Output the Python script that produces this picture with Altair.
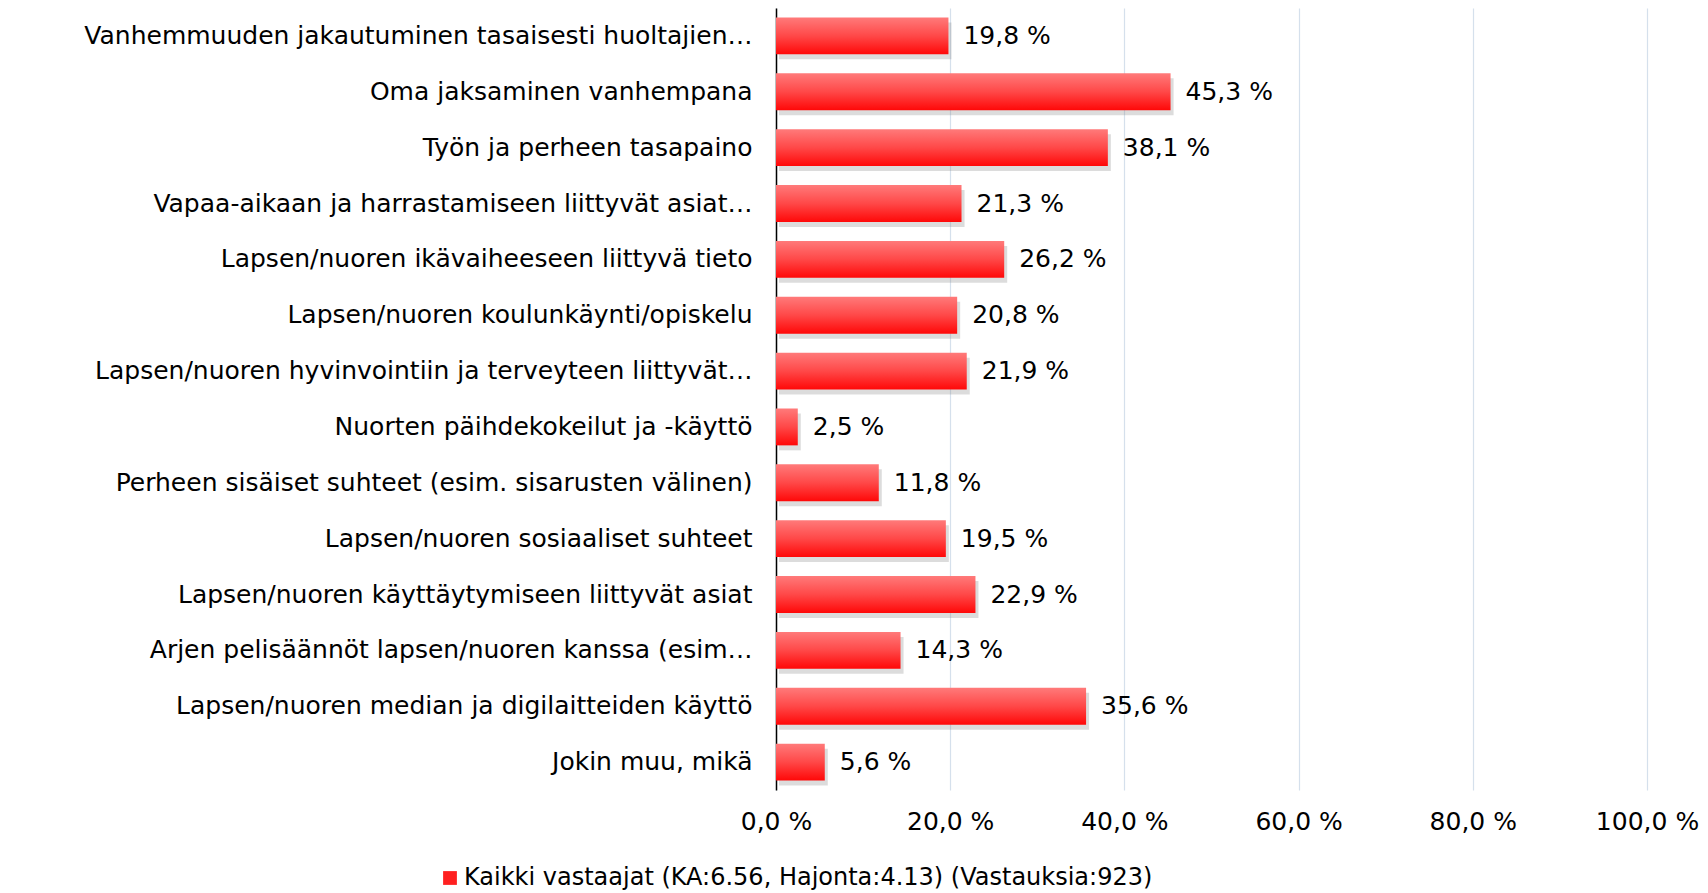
import altair as alt
import pandas as pd

categories = [
    "Vanhemmuuden jakautuminen tasaisesti huoltajien…",
    "Oma jaksaminen vanhempana",
    "Työn ja perheen tasapaino",
    "Vapaa-aikaan ja harrastamiseen liittyvät asiat…",
    "Lapsen/nuoren ikävaiheeseen liittyvä tieto",
    "Lapsen/nuoren koulunkäynti/opiskelu",
    "Lapsen/nuoren hyvinvointiin ja terveyteen liittyvät…",
    "Nuorten päihdekokeilut ja -käyttö",
    "Perheen sisäiset suhteet (esim. sisarusten välinen)",
    "Lapsen/nuoren sosiaaliset suhteet",
    "Lapsen/nuoren käyttäytymiseen liittyvät asiat",
    "Arjen pelisäännöt lapsen/nuoren kanssa (esim…",
    "Lapsen/nuoren median ja digilaitteiden käyttö",
    "Jokin muu, mikä",
]
values = [19.8, 45.3, 38.1, 21.3, 26.2, 20.8, 21.9, 2.5, 11.8, 19.5, 22.9, 14.3, 35.6, 5.6]
series_name = "Kaikki vastaajat (KA:6.56, Hajonta:4.13) (Vastauksia:923)"
x_ticks = [0, 20, 40, 60, 80, 100]

df = pd.DataFrame({"cat": categories, "val": values, "series": series_name})

FONT = "DejaVu Sans"
FS = 25

y_enc = alt.Y(
    "cat:N",
    sort=categories,
    scale=alt.Scale(paddingInner=0.34, paddingOuter=0.17),
    axis=alt.Axis(
        title=None, labelFont=FONT, labelFontSize=FS, labelColor="black",
        labelPadding=24, ticks=False, domainColor="black", domainWidth=1.5,
        labelLimit=900,
    ),
)
x_enc = alt.X(
    "val:Q",
    scale=alt.Scale(domain=[0, 100]),
    axis=alt.Axis(
        title=None, values=x_ticks, grid=True, gridColor="#D5E0EC", gridWidth=1.2,
        domain=False, ticks=False, labelPadding=19, labelFont=FONT,
        labelFontSize=FS, labelColor="black", labelFlush=False, labelOverlap=False,
        labelExpr="replace(format(datum.value, '.1f'), '.', ',') + ' %'",
    ),
)

base = alt.Chart(df).transform_calculate(
    lbl="replace(format(datum.val, '.1f'), '.', ',') + ' %'"
)

shadow = base.mark_bar(color="#8a8a8a", opacity=0.3, xOffset=3, yOffset=5).encode(
    x=x_enc, y=y_enc
)

grad = alt.Gradient(
    gradient="linear",
    stops=[
        alt.GradientStop(color="#FF7A7A", offset=0),
        alt.GradientStop(color="#FF4848", offset=0.5),
        alt.GradientStop(color="#FF0808", offset=1),
    ],
    x1=0, x2=0, y1=0, y2=1,
)
bars = base.mark_bar(color=grad).encode(x=x_enc, y=y_enc)

text = base.mark_text(align="left", dx=15, font=FONT, fontSize=FS, color="black").encode(
    x=x_enc, y=y_enc, text="lbl:N"
)

legend_layer = base.mark_square(opacity=0, size=10).encode(
    x=x_enc,
    y=y_enc,
    color=alt.Color(
        "series:N",
        scale=alt.Scale(range=["#FF2020"]),
        legend=alt.Legend(
            title=None, orient="none", legendX=-338, legendY=858,
            symbolType="square", symbolSize=190, symbolOpacity=1,
            symbolStrokeWidth=0, labelFont=FONT, labelFontSize=24,
            labelColor="black", labelLimit=1200, labelOffset=2,
        ),
    ),
)

chart = (
    alt.layer(shadow, bars, text, legend_layer)
    .properties(
        width=871, height=782,
        background="white",
        autosize=alt.AutoSizeParams(type="none"),
        padding={"left": 768, "top": 0, "right": 53, "bottom": 100},
    )
    .configure_view(strokeWidth=0, stroke="transparent")
)

chart.save("out.html", embed_options={"renderer": "svg", "actions": False})
